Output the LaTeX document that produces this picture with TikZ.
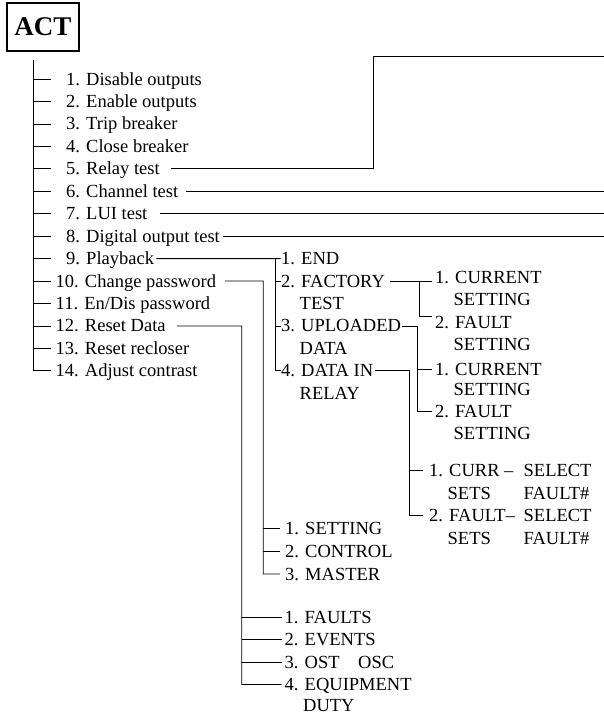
\documentclass[tikz,border=0pt]{standalone}
\usepackage{fontspec}
\setmainfont{Liberation Serif}

\tikzset{
  item/.style={anchor=west, inner sep=0pt, text height=12pt, text depth=0pt,
    font=\fontsize{18.5}{22}\selectfont},
  wire/.style={line width=0.8pt},
}

\begin{document}
\begin{tikzpicture}[x=1pt, y=-1pt]
    \useasboundingbox (0,0) rectangle (604,715);

    \node[draw, line width=1.6pt, minimum width=72pt, minimum height=48pt, inner sep=0pt,
      font=\fontsize{27}{30}\selectfont\bfseries] (act) at (43,26.7) {ACT};

    % main menu
    \foreach \i/\t in {1/Disable outputs, 2/Enable outputs, 3/Trip breaker, 4/Close breaker,
        5/Relay test, 6/Channel test, 7/LUI test, 8/Digital output test, 9/Playback}
        \node[item] (m\i) at (66,{79+22.45*(\i-1)}) {\i. \t};
    \foreach \i/\t in {10/Change password, 11/{En/Dis password}, 12/Reset Data,
        13/Reset recloser, 14/Adjust contrast}
        \node[item] (m\i) at (55.5,{79+22.45*(\i-1)}) {\i. \t};

    \coordinate (top) at (33.3,60);
    \coordinate (me) at (50.7,0);
    \draw[wire] (top) |- (m14.west -| me);
    \foreach \i in {1,...,13}
        \draw[wire] (m\i.west -| top) -- (m\i.west -| me);

    % lines running off to the right
    \coordinate (edge) at (604,0);
    \coordinate (rb) at (373.7,56.3);
    \draw[wire] ([xshift=11pt]m5.east) -| (rb) -- (rb -| edge);
    \draw[wire] ([xshift=8pt]m6.east) -- (m6.east -| edge);
    \draw[wire] ([xshift=12pt]m7.east) -- (m7.east -| edge);
    \draw[wire] ([xshift=3pt]m8.east) -- (m8.east -| edge);

    % playback
    \node[item] (p1) at (281,258.6) {1. END};
    \node[item] (p2) at (281,281.05) {2. FACTORY};
    \node[item] (p2b) at (281,303.5) {\phantom{2.} TEST};
    \node[item] (p3) at (281,325.95) {3. UPLOADED};
    \node[item] (p3b) at (281,348.4) {\phantom{3.} DATA};
    \node[item] (p4) at (281,370.85) {4. DATA IN};
    \node[item] (p4b) at (281,393.3) {\phantom{4.} RELAY};

    \coordinate (pv) at (275,258.6);
    \coordinate (pe) at (280.5,0);
    \draw[wire] ([xshift=2pt]m9.east) -- (pv) -- (pv -| pe);
    \draw[wire] (pv) |- (p4.west -| pe);
    \foreach \n in {p2,p3}
        \draw[wire] (\n.west -| pv) -- (\n.west -| pe);

    % factory test
    \node[item] (f1) at (435,277) {1. CURRENT};
    \node[item] (f1b) at (435,299.5) {\phantom{1.} SETTING};
    \node[item] (f2) at (435,322) {2. FAULT};
    \node[item] (f2b) at (435,344.5) {\phantom{2.} SETTING};

    \coordinate (fv) at (419,281.05);
    \coordinate (fc) at (419,316.7);
    \coordinate (fe) at (432,0);
    \draw[wire] ([xshift=5pt]p2.east) -- (fv) -- (fv -| fe);
    \draw[wire] (fv) -- (fc) -- (fc -| fe);

    % uploaded data
    \node[item] (u1) at (435,369) {1. CURRENT};
    \node[item] (u1b) at (435,389.5) {\phantom{1.} SETTING};
    \node[item] (u2) at (435,411) {2. FAULT};
    \node[item] (u2b) at (435,433.3) {\phantom{2.} SETTING};

    \coordinate (uv) at (417.5,325.95);
    \draw[wire] ([xshift=1pt]p3.east) -- (uv) |- (u2.west -| fe);
    \draw[wire] (u1.west -| uv) -- (u1.west -| fe);

    % data in relay
    \node[item] (d1) at (429,470.5) {1. CURR --};
    \node[item] (d1b) at (429,493) {\phantom{1.} SETS};
    \node[item] (d1c) at (523.5,470.5) {SELECT};
    \node[item] (d1d) at (523.5,493) {FAULT\#};
    \node[item] (d2) at (429,515.5) {2. FAULT--};
    \node[item] (d2b) at (429,538) {\phantom{2.} SETS};
    \node[item] (d2c) at (523.5,515.5) {SELECT};
    \node[item] (d2d) at (523.5,538) {FAULT\#};

    \coordinate (dv) at (409.3,370.85);
    \coordinate (de) at (423.3,0);
    \draw[wire] ([xshift=2pt]p4.east) -- (dv) |- (d2.west -| de);
    \draw[wire] (d1.west -| dv) -- (d1.west -| de);

    % change password
    \node[item] (c1) at (285,528.3) {1. SETTING};
    \node[item] (c2) at (285,551.2) {2. CONTROL};
    \node[item] (c3) at (285,574) {3. MASTER};

    \coordinate (cv) at (263.3,281.05);
    \coordinate (ce) at (280,0);
    \draw[wire] ([xshift=9pt]m10.east) -- (cv) |- (c3.west -| ce);
    \foreach \n in {c1,c2}
        \draw[wire] (\n.west -| cv) -- (\n.west -| ce);

    % reset data
    \node[item] (r1) at (284.5,617) {1. FAULTS};
    \node[item] (r2) at (284.5,639.5) {2. EVENTS};
    \node[item] (r3) at (284.5,662.3) {3. OST\quad OSC};
    \node[item] (r4) at (284.5,684.5) {4. EQUIPMENT};
    \node[item] (r4b) at (284.5,705.5) {\phantom{4.} DUTY};

    \coordinate (rv) at (241.7,325.95);
    \coordinate (re) at (281.5,0);
    \draw[wire] ([xshift=11pt]m12.east) -- (rv) |- (r4.west -| re);
    \foreach \n in {r1,r2,r3}
        \draw[wire] (\n.west -| rv) -- (\n.west -| re);

\end{tikzpicture}
\end{document}
